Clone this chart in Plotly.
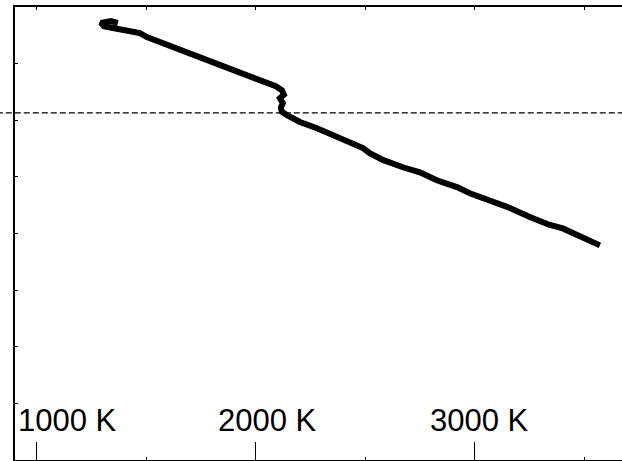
import plotly.graph_objects as go

# Temperature profile (K) against depth (axis units, increasing downward)
temperature = [1370, 1338, 1292, 1306, 1347, 1393, 1470, 1502, 1562, 1621,
               1653, 1712, 1776, 1822, 1868, 1927, 1986, 2018, 2050, 2091,
               2119, 2128, 2110, 2123, 2114, 2119, 2142, 2201, 2279, 2370,
               2429, 2489, 2520, 2580, 2671, 2749, 2826, 2918, 2977, 3068,
               3160, 3251, 3342, 3402, 3493, 3571]
depth = [0.28, 0.25, 0.28, 0.34, 0.37, 0.41, 0.46, 0.53, 0.62, 0.71,
         0.76, 0.85, 0.94, 1.02, 1.08, 1.15, 1.25, 1.29, 1.34, 1.40,
         1.47, 1.55, 1.61, 1.70, 1.78, 1.85, 1.91, 2.03, 2.14, 2.30,
         2.40, 2.49, 2.58, 2.70, 2.83, 2.92, 3.06, 3.18, 3.29, 3.41,
         3.55, 3.71, 3.85, 3.91, 4.06, 4.21]

# Boundary level marked with a dashed line
boundary_depth = 1.87

# Temperature tick labels
label_values = [1000, 2000, 3000]
label_texts = ["1000 K", "2000 K", "3000 K"]
minor_values = [1000, 1500, 2000, 2500, 3000, 3500]

x_range = [900, 3672]
y_range = [8, 0]

# horizontal nudges for the in-plot temperature labels (px)
label_xshift = [31, 12, 5]

fig = go.Figure()

fig.add_trace(go.Scatter(
    x=temperature, y=depth, mode="lines",
    line=dict(color="black", width=6),
    hoverinfo="skip", showlegend=False,
))

# empty trace so the overlaid axis carrying the long ticks is created
fig.add_trace(go.Scatter(x=[], y=[], xaxis="x2", yaxis="y",
                         showlegend=False, hoverinfo="skip"))

fig.add_shape(type="line", xref="paper", yref="y",
              x0=-0.03, x1=1.0, y0=boundary_depth, y1=boundary_depth,
              line=dict(color="black", width=1.2, dash="6px,3px"))

for val, txt, dx in zip(label_values, label_texts, label_xshift):
    fig.add_annotation(x=val, y=0.088, xref="x", yref="paper",
                       text=txt, showarrow=False, xshift=dx,
                       xanchor="center", yanchor="middle",
                       font=dict(family="Liberation Sans, Arial", size=31,
                                 color="black"))

fig.update_layout(
    width=622, height=461,
    margin=dict(l=15, r=0, t=7, b=1),
    paper_bgcolor="white", plot_bgcolor="white",
    xaxis=dict(range=x_range, tickvals=minor_values, ticks="inside",
               ticklen=3, tickwidth=1, tickcolor="black",
               showticklabels=False, showline=True, linecolor="black",
               linewidth=1.5, mirror="ticks", showgrid=False,
               zeroline=False),
    xaxis2=dict(range=x_range, overlaying="x", anchor="y", side="bottom",
                tickvals=label_values, ticks="inside", ticklen=18,
                tickwidth=1, tickcolor="black", showticklabels=False,
                showline=False, showgrid=False, zeroline=False),
    yaxis=dict(range=y_range, dtick=1, ticks="inside", ticklen=3,
               tickwidth=1, tickcolor="black", showticklabels=False,
               showline=True, linecolor="black", linewidth=1.5,
               mirror=False, showgrid=False, zeroline=False),
)

fig.write_html("out.html")
